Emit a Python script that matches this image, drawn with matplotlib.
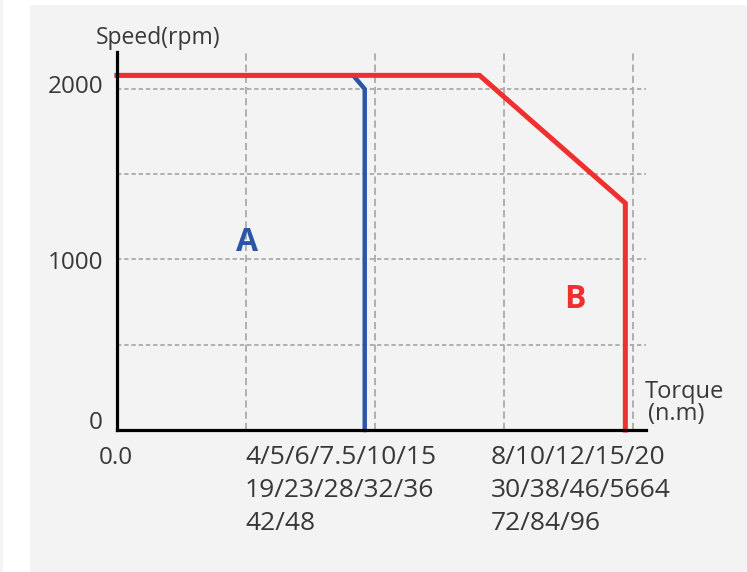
import matplotlib
matplotlib.use("Agg")
import matplotlib.pyplot as plt
from matplotlib.patches import Rectangle

# ---- data -------------------------------------------------------------
# torque axis positions (grid units) and rated speed curves
torque_a = [0.0, 1.83, 1.92, 1.92]
speed_a = [2080, 2080, 2000, 0]

torque_b = [0.0, 2.81, 3.94, 3.94]
speed_b = [2080, 2080, 1330, 0]

y_ticks = [0, 500, 1000, 1500, 2000]
y_labels = {0: "0", 1000: "1000", 2000: "2000"}
x_ticks = [0, 1, 2, 3, 4]
x_label_zero = "0.0"
torque_group_a = ["4/5/6/7.5/10/15", "19/23/28/32/36", "42/48"]
torque_group_b = ["8/10/12/15/20", "30/38/46/5664", "72/84/96"]

# ---- style ------------------------------------------------------------
W, H = 747, 572
PANEL = "#f3f3f3"
RED = "#f0302e"
BLUE = "#2b56a8"
GRID = "#aaaaaa"
TEXT = "#383838"
FONT = ["Open Sans", "DejaVu Sans"]
FS = 17.5

plt.rcParams["font.family"] = FONT

fig = plt.figure(figsize=(W / 100, H / 100), dpi=100, facecolor="white")

# light panel behind the chart
fig.patches.append(Rectangle((30 / W, 0), 1 - 30 / W, 1 - 5 / H,
                             transform=fig.transFigure, facecolor=PANEL,
                             edgecolor="none", zorder=-10))
fig.patches.append(Rectangle((0, 0), 3 / W, 1,
                             transform=fig.transFigure, facecolor=PANEL,
                             edgecolor="none", zorder=-10))

ax = fig.add_axes([117 / W, (H - 430) / H, 529 / W, 378 / H])
ax.set_facecolor(PANEL)
ax.set_xlim(0, 4.1)
ax.set_ylim(0, 2217)

ax.set_xticks(x_ticks)
ax.set_yticks(y_ticks)
ax.tick_params(length=0, labelbottom=False, labelleft=False)
ax.xaxis.grid(True, color=GRID, linestyle=(0, (4, 2.2)), linewidth=1.3)
ax.yaxis.grid(True, color=GRID, linestyle=(0, (2.4, 1.6)), linewidth=1.3)
ax.set_axisbelow(True)

for side in ("top", "right"):
    ax.spines[side].set_visible(False)
for side in ("left", "bottom"):
    ax.spines[side].set_color("black")
    ax.spines[side].set_linewidth(2.3)
    ax.spines[side].set_zorder(5)

# speed–torque curves
ax.plot(torque_a, speed_a, color=BLUE, linewidth=3.2, solid_joinstyle="miter",
        zorder=3, clip_on=False)
ax.plot(torque_b, speed_b, color=RED, linewidth=3.6, solid_joinstyle="miter",
        zorder=4, clip_on=False)

ax.text(1.008, 1097, "A", color=BLUE, fontsize=23, fontweight="bold",
        ha="center", va="center")
ax.text(3.55, 768, "B", color=RED, fontsize=23, fontweight="bold",
        ha="center", va="center")


def fx(px):
    return px / W


def fy(py):
    return 1 - py / H


# y tick labels
y_text_pos = {2000: 84, 1000: 260, 0: 420}
for val, lab in y_labels.items():
    fig.text(fx(103), fy(y_text_pos[val]), lab, ha="right", va="center_baseline",
             fontsize=FS, color=TEXT)

# x tick labels
fig.text(fx(116), fy(464), x_label_zero, ha="center", va="baseline",
         fontsize=FS, color=TEXT)
baselines = [464, 497, 530]
for line, base in zip(torque_group_a, baselines):
    fig.text(fx(245), fy(base), line, ha="left", va="baseline",
             fontsize=19, color=TEXT)
for line, base in zip(torque_group_b, baselines):
    fig.text(fx(491), fy(base), line, ha="left", va="baseline",
             fontsize=19, color=TEXT)

# axis titles
fig.text(fx(158), fy(35), "Speed(rpm)", ha="center", va="center_baseline",
         fontsize=16.5, color=TEXT)
fig.text(fx(645), fy(398), "Torque", ha="left", va="baseline",
         fontsize=17, color=TEXT)
fig.text(fx(648), fy(420), "(n.m)", ha="left", va="baseline",
         fontsize=17, color=TEXT)

fig.savefig("out.png", dpi=100, facecolor="white")
